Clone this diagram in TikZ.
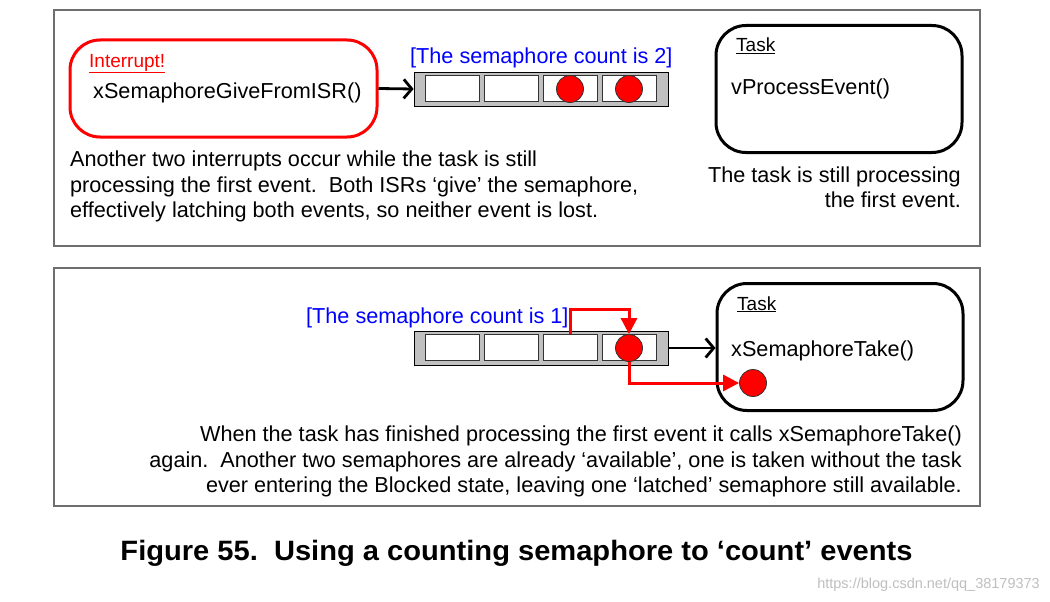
\documentclass[tikz,border=0pt]{standalone}
\usepackage{fontspec}
\setmainfont{Liberation Sans}
\usetikzlibrary{arrows.meta,calc}
\definecolor{pure}{RGB}{255,0,0}
\definecolor{lblue}{RGB}{0,0,255}
\definecolor{bargray}{RGB}{192,192,192}
\definecolor{panelgray}{RGB}{110,110,110}
\tikzset{
  panel/.style={draw=panelgray, line width=1.2pt, fill=white},
  isrbox/.style={draw=pure, line width=3pt, rounded corners=30pt, minimum width=307pt, minimum height=97pt, inner sep=0pt},
  taskbox/.style={draw=black, line width=3pt, rounded corners=30pt, minimum width=246pt, minimum height=127pt, inner sep=0pt},
  semabar/.style={draw=black, line width=0.8pt, fill=bargray, minimum width=254pt, minimum height=34pt, inner sep=0pt},
  cell/.style={draw=black!80, line width=0.8pt, fill=white, minimum width=54pt, minimum height=26pt, inner sep=0pt},
  token/.style={circle, draw=black!80, line width=0.8pt, fill=pure, minimum size=27pt, inner sep=0pt},
  txt/.style={inner sep=0pt, font=\fontsize{21.65}{26}\selectfont},
  small/.style={inner sep=0pt, font=\fontsize{19}{22}\selectfont},
  blackarrow/.style={draw=black, line width=2.8pt, -{Straight Barb[length=8pt,width=19pt,line width=2.8pt]}},
  redarrow/.style={draw=pure, line width=3pt, -{Triangle[length=16pt,width=16pt]}},
}
\begin{document}
\begin{tikzpicture}[x=1pt,y=-1pt]
\useasboundingbox (0,0) rectangle (1050,602);
\fill[white] (0,0) rectangle (1050,602);
% panels
\draw[panel] (54,10) rectangle (980,246);
\draw[panel] (54,268) rectangle (980,506);

% ---------- top panel ----------
\node[isrbox] (isr) at (223.5,88.5) {};
\node[small, anchor=base west, text=pure] (intr) at (89,67) {\underline{Interrupt!}};
\node[txt, anchor=base west] (give) at (93,99) {xSemaphoreGiveFromISR()};

\node[semabar] (bar1) at (541,89) {};
\node[cell] (c11) at (452,88.5) {};
\node[cell] (c12) at (511,88.5) {};
\node[cell] (c13) at (570,88.5) {};
\node[cell] (c14) at (629,88.5) {};
\node[token] (d13) at (570,89) {};
\node[token] (d14) at (629,89) {};
\node[txt, anchor=base west, text=lblue] (cnt2) at (410,64) {[The semaphore count is 2]};
\draw[blackarrow] (isr.east) -- (bar1.west);

\node[taskbox] (task1) at (839,89) {};
\node[small, anchor=base west] (tl1) at (736,52) {\underline{Task}};
\node[txt, anchor=base west] (vpe) at (731,95) {vProcessEvent()};

\node[txt, anchor=base west] (la) at (70,166) {Another two interrupts occur while the task is still};
\node[txt, anchor=base west] (lb) at (70,192) {processing the first event.\ \ Both ISRs ‘give’ the semaphore,};
\node[txt, anchor=base west] (lc) at (70,217.5) {effectively latching both events, so neither event is lost.};
\node[txt, anchor=base east] (ra) at (961,182) {The task is still processing};
\node[txt, anchor=base east] (rb) at (961,207) {the first event.};

% ---------- bottom panel ----------
\node[semabar] (bar2) at (541,348) {};
\node[cell] (c21) at (452,347.5) {};
\node[cell] (c22) at (511,347.5) {};
\node[cell] (c23) at (570,347.5) {};
\node[cell] (c24) at (629,347.5) {};
\node[token] (d24) at (629,348) {};
\node[txt, anchor=base west, text=lblue] (cnt1) at (306,323) {[The semaphore count is 1]};

\node[taskbox] (task2) at (840,347) {};
\node[small, anchor=base west] (tl2) at (737,310) {\underline{Task}};
\node[txt, anchor=base west] (take) at (731,356) {xSemaphoreTake()};
\node[token] (d25) at (753,383) {};

\draw[blackarrow] (bar2.east) -- (bar2.east -| task2.west);
\draw[redarrow] (c23.north) |- ([yshift=25pt]d24.north) -- (d24.north);
\draw[redarrow] (d24.south) |- (d25.west);

\node[txt, anchor=base east] (ba) at (962,441) {When the task has finished processing the first event it calls xSemaphoreTake()};
\node[txt, anchor=base east] (bb) at (962,467) {again.\ \ Another two semaphores are already ‘available’, one is taken without the task};
\node[txt, anchor=base east] (bc) at (962,492) {ever entering the Blocked state, leaving one ‘latched’ semaphore still available.};

% ---------- caption ----------
\node[inner sep=0pt, anchor=base] (cap) at (516.5,560) {\resizebox{792pt}{\height}{\fontsize{28}{32}\selectfont\bfseries Figure 55.\ \ Using a counting semaphore to ‘count’ events}};
\node[inner sep=0pt, anchor=base east, text=black!25, font=\fontsize{14.5}{16}\selectfont] (wm) at (1040,588) {https://blog.csdn.net/qq\_38179373};
\end{tikzpicture}
\end{document}
